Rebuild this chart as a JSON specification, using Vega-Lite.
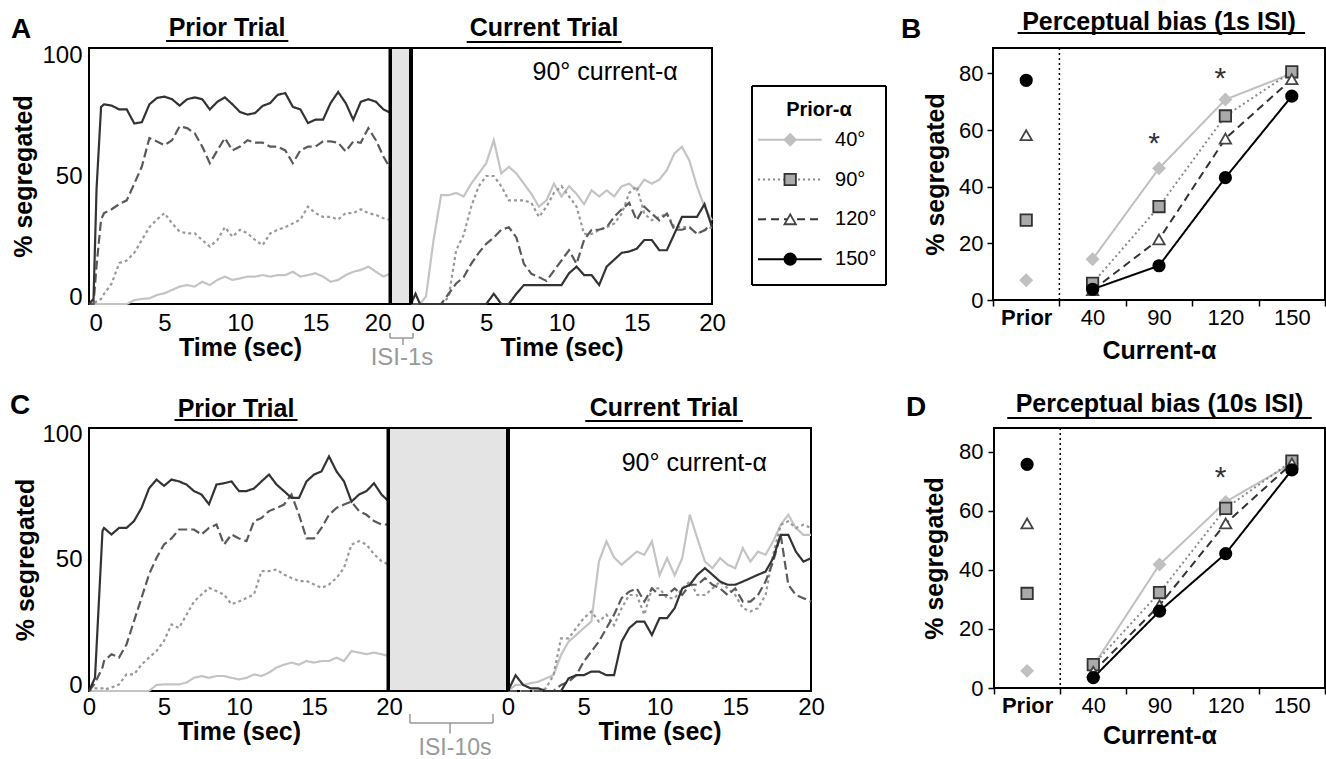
{
"$schema": "https://vega.github.io/schema/vega-lite/v6.json",
"padding": {"left": 8, "top": 9, "right": 0, "bottom": 0},
"config": {"font": "Liberation Sans", "view": {"stroke": "black", "strokeWidth": 2}, "axis": {"labelColor": "black", "titleColor": "black", "grid": false, "labelOverlap": false}, "text": {"color": "black"}},
"datasets": {
"ap": [
{"t":0,"40°":0,"90°":0,"120°":0,"150°":0},
{"t":0.3,"40°":0,"90°":0,"120°":0,"150°":2},
{"t":0.5,"40°":0,"90°":1,"120°":15,"150°":45},
{"t":0.8,"40°":0,"90°":2,"120°":33,"150°":77},
{"t":1,"40°":0,"90°":4,"120°":35.5,"150°":78},
{"t":1.5,"40°":0,"90°":8,"120°":37,"150°":77.5},
{"t":2,"40°":0,"90°":16,"120°":39,"150°":76},
{"t":2.5,"40°":0,"90°":17,"120°":40.5,"150°":76},
{"t":3,"40°":1.5,"90°":20,"120°":47,"150°":70.5},
{"t":3.5,"40°":2,"90°":25,"120°":53.7,"150°":71},
{"t":4,"40°":2.2,"90°":30,"120°":64.8,"150°":78},
{"t":4.5,"40°":3.5,"90°":33,"120°":63.5,"150°":80.5},
{"t":5,"40°":4.2,"90°":35.5,"120°":62,"150°":81},
{"t":5.5,"40°":5.5,"90°":31.5,"120°":64,"150°":80},
{"t":6,"40°":6.8,"90°":28.3,"120°":69.4,"150°":77.5},
{"t":6.5,"40°":7.4,"90°":27.6,"120°":68.7,"150°":80},
{"t":7,"40°":6.8,"90°":27.6,"120°":66.7,"150°":80.7},
{"t":7.5,"40°":8.7,"90°":25,"120°":61.5,"150°":80},
{"t":8,"40°":7.4,"90°":22.4,"120°":55,"150°":76},
{"t":8.5,"40°":9.4,"90°":25,"120°":60,"150°":79},
{"t":9,"40°":10.7,"90°":30,"120°":64.8,"150°":80.7},
{"t":9.5,"40°":9.4,"90°":26.3,"120°":60,"150°":78},
{"t":10,"40°":10,"90°":29,"120°":61.5,"150°":75},
{"t":10.5,"40°":10.7,"90°":27.6,"120°":64,"150°":74},
{"t":11,"40°":10.7,"90°":25,"120°":63,"150°":74.6},
{"t":11.5,"40°":11.3,"90°":23,"120°":63,"150°":77.4},
{"t":12,"40°":10.7,"90°":27.6,"120°":61.5,"150°":78.5},
{"t":12.5,"40°":11.3,"90°":29,"120°":61.5,"150°":81.7},
{"t":13,"40°":11.3,"90°":30,"120°":60,"150°":82.4},
{"t":13.5,"40°":12.6,"90°":31.5,"120°":55,"150°":77},
{"t":14,"40°":10.7,"90°":33,"120°":60,"150°":76},
{"t":14.5,"40°":11.3,"90°":38,"120°":61.5,"150°":70.7},
{"t":15,"40°":12,"90°":35.5,"120°":61.5,"150°":72},
{"t":15.5,"40°":10.7,"90°":34,"120°":63.5,"150°":72},
{"t":16,"40°":8.7,"90°":34,"120°":63.5,"150°":78.5},
{"t":16.5,"40°":9.4,"90°":33,"120°":63,"150°":82.8},
{"t":17,"40°":11.3,"90°":35.5,"120°":59.6,"150°":78.5},
{"t":17.5,"40°":12.6,"90°":35.5,"120°":63.5,"150°":72},
{"t":18,"40°":13.3,"90°":37,"120°":63,"150°":79},
{"t":18.5,"40°":14.6,"90°":35.5,"120°":68.7,"150°":80},
{"t":19,"40°":12.6,"90°":34.8,"120°":64,"150°":79},
{"t":19.5,"40°":10.7,"90°":33.5,"120°":57.6,"150°":76},
{"t":20,"40°":12,"90°":32.8,"120°":52.4,"150°":74.6}
],
"ac": [
{"t":0,"40°":0,"90°":0,"120°":0,"150°":0},
{"t":0.3,"40°":0,"90°":0,"120°":0,"150°":4},
{"t":0.6,"40°":0,"90°":0,"120°":0,"150°":0},
{"t":1,"40°":3,"90°":0,"120°":0,"150°":0},
{"t":1.5,"40°":25,"90°":0,"120°":0,"150°":0},
{"t":2,"40°":42.5,"90°":0,"120°":0,"150°":0},
{"t":2.5,"40°":42.5,"90°":2.6,"120°":4,"150°":0},
{"t":3,"40°":43.4,"90°":21,"120°":8,"150°":0},
{"t":3.5,"40°":42,"90°":27,"120°":10.5,"150°":0},
{"t":4,"40°":47,"90°":38,"120°":15.7,"150°":0},
{"t":4.5,"40°":51,"90°":46,"120°":20,"150°":0},
{"t":5,"40°":55,"90°":50,"120°":23.5,"150°":0},
{"t":5.5,"40°":64,"90°":50,"120°":26,"150°":4},
{"t":6,"40°":51,"90°":46,"120°":29,"150°":0},
{"t":6.5,"40°":53.6,"90°":40.5,"120°":30,"150°":0},
{"t":7,"40°":51,"90°":40.5,"120°":26,"150°":4},
{"t":7.5,"40°":47,"90°":40.5,"120°":15.7,"150°":7.4},
{"t":8,"40°":43,"90°":39.5,"120°":11.8,"150°":7.4},
{"t":8.5,"40°":38,"90°":34,"120°":10.5,"150°":7.4},
{"t":9,"40°":40.5,"90°":38,"120°":9,"150°":7.4},
{"t":9.5,"40°":47,"90°":43.4,"120°":13,"150°":7.4},
{"t":10,"40°":42,"90°":46,"120°":17,"150°":7.4},
{"t":10.5,"40°":46,"90°":42,"120°":21,"150°":12},
{"t":11,"40°":43,"90°":38,"120°":15.7,"150°":14.6},
{"t":11.5,"40°":39,"90°":27.4,"120°":25,"150°":11.3},
{"t":12,"40°":44.4,"90°":27.4,"120°":29,"150°":11.3},
{"t":12.5,"40°":42,"90°":28.8,"120°":29,"150°":7.4},
{"t":13,"40°":44.4,"90°":30,"120°":30,"150°":14.6},
{"t":13.5,"40°":42,"90°":31.4,"120°":34,"150°":17.3},
{"t":14,"40°":46,"90°":35.3,"120°":37,"150°":20},
{"t":14.5,"40°":47,"90°":43.4,"120°":39.5,"150°":20.5},
{"t":15,"40°":44.4,"90°":46,"120°":32.7,"150°":21.6},
{"t":15.5,"40°":48.6,"90°":35.3,"120°":38,"150°":25},
{"t":16,"40°":47,"90°":32.7,"120°":35.3,"150°":25},
{"t":16.5,"40°":48.6,"90°":34,"120°":32.7,"150°":21},
{"t":17,"40°":52.3,"90°":35.3,"120°":35.3,"150°":21},
{"t":17.5,"40°":58.8,"90°":30,"120°":29,"150°":27.4},
{"t":18,"40°":61.4,"90°":30,"120°":29,"150°":34},
{"t":18.5,"40°":56,"90°":30,"120°":30,"150°":34},
{"t":19,"40°":46,"90°":27.4,"120°":27.4,"150°":34},
{"t":19.5,"40°":38,"90°":28.8,"120°":28.8,"150°":39},
{"t":20,"40°":32.7,"90°":30,"120°":31.4,"150°":30}
],
"cp": [
{"t":0,"40°":0,"90°":0,"120°":0,"150°":0},
{"t":0.4,"40°":0,"90°":1,"120°":3,"150°":5},
{"t":0.9,"40°":0,"90°":1,"120°":9,"150°":60.8},
{"t":1,"40°":0,"90°":0.5,"120°":11.4,"150°":62},
{"t":1.5,"40°":0,"90°":1.3,"120°":14,"150°":59.5},
{"t":2,"40°":0,"90°":2.5,"120°":12.7,"150°":62},
{"t":2.5,"40°":0,"90°":6.3,"120°":17.7,"150°":62},
{"t":3,"40°":0,"90°":6.3,"120°":26.6,"150°":64.6},
{"t":3.5,"40°":0,"90°":10,"120°":35.4,"150°":69.6},
{"t":4,"40°":0,"90°":12.7,"120°":44.3,"150°":77},
{"t":4.5,"40°":2.3,"90°":15.2,"120°":50.6,"150°":80.4},
{"t":5,"40°":2.5,"90°":19,"120°":55.7,"150°":78},
{"t":5.5,"40°":2.5,"90°":25.3,"120°":58,"150°":80.4},
{"t":6,"40°":2.5,"90°":24,"120°":61.4,"150°":79.7},
{"t":6.5,"40°":3.2,"90°":29,"120°":61.4,"150°":78.5},
{"t":7,"40°":5,"90°":34,"120°":61.4,"150°":76},
{"t":7.5,"40°":5.7,"90°":36.7,"120°":59.5,"150°":74.7},
{"t":8,"40°":5,"90°":39.2,"120°":62,"150°":71},
{"t":8.5,"40°":5.7,"90°":38,"120°":63.3,"150°":78.5},
{"t":9,"40°":5.7,"90°":36.7,"120°":55.7,"150°":79},
{"t":9.5,"40°":5,"90°":33,"120°":59.5,"150°":79.7},
{"t":10,"40°":4.4,"90°":34,"120°":58,"150°":76},
{"t":10.5,"40°":5,"90°":35.4,"120°":57,"150°":76},
{"t":11,"40°":6.3,"90°":36.7,"120°":64.6,"150°":77},
{"t":11.5,"40°":5.7,"90°":45.6,"120°":65.8,"150°":79.7},
{"t":12,"40°":7,"90°":45.6,"120°":68.4,"150°":82.3},
{"t":12.5,"40°":8.9,"90°":46.2,"120°":69.6,"150°":78.5},
{"t":13,"40°":10,"90°":44.3,"120°":70.9,"150°":76},
{"t":13.5,"40°":10.8,"90°":43,"120°":74.7,"150°":73.4},
{"t":14,"40°":10,"90°":41.8,"120°":67,"150°":73.4},
{"t":14.5,"40°":11.4,"90°":41.8,"120°":58,"150°":79.7},
{"t":15,"40°":10.8,"90°":40.5,"120°":58,"150°":82.3},
{"t":15.5,"40°":11.4,"90°":39.2,"120°":62,"150°":83.5},
{"t":16,"40°":11.4,"90°":40.5,"120°":67,"150°":89.2},
{"t":16.5,"40°":12.7,"90°":43,"120°":69.6,"150°":83.5},
{"t":17,"40°":11.4,"90°":46.8,"120°":70.9,"150°":79.7},
{"t":17.5,"40°":15.2,"90°":55.7,"120°":72,"150°":72},
{"t":18,"40°":14.6,"90°":57,"120°":68.4,"150°":74.7},
{"t":18.5,"40°":14,"90°":55.7,"120°":67,"150°":76},
{"t":19,"40°":14.6,"90°":52,"120°":64.6,"150°":79},
{"t":19.5,"40°":14,"90°":49.4,"120°":63.3,"150°":74.7},
{"t":20,"40°":13.3,"90°":48,"120°":63.3,"150°":72}
],
"cc": [
{"t":0,"40°":0,"90°":0,"120°":0,"150°":0},
{"t":0.5,"40°":2.3,"90°":0,"120°":0,"150°":6},
{"t":1,"40°":2.3,"90°":0,"120°":0,"150°":2.3},
{"t":1.5,"40°":3,"90°":0,"120°":0,"150°":1},
{"t":2,"40°":3.5,"90°":0,"120°":0,"150°":1},
{"t":2.5,"40°":4.8,"90°":1,"120°":0,"150°":0},
{"t":3,"40°":6,"90°":6,"120°":0,"150°":0},
{"t":3.5,"40°":13.7,"90°":20,"120°":2.3,"150°":0},
{"t":4,"40°":18.8,"90°":20,"120°":3.5,"150°":4.8},
{"t":4.5,"40°":21.3,"90°":23.9,"120°":6,"150°":6},
{"t":5,"40°":23.9,"90°":27.7,"120°":11.2,"150°":6},
{"t":5.5,"40°":26.4,"90°":30.2,"120°":15,"150°":7.4},
{"t":6,"40°":49.2,"90°":26.4,"120°":18.8,"150°":7.4},
{"t":6.5,"40°":56.9,"90°":29,"120°":23.9,"150°":6},
{"t":7,"40°":50.8,"90°":25,"120°":29,"150°":6},
{"t":7.5,"40°":48,"90°":31.5,"120°":35.3,"150°":18.8},
{"t":8,"40°":50.5,"90°":36.5,"120°":37.8,"150°":23.9},
{"t":8.5,"40°":53,"90°":36.5,"120°":39,"150°":26.4},
{"t":9,"40°":51.8,"90°":29,"120°":34,"150°":26.4},
{"t":9.5,"40°":56.9,"90°":39,"120°":39,"150°":21.3},
{"t":10,"40°":44,"90°":39,"120°":36.5,"150°":27.7},
{"t":10.5,"40°":50.5,"90°":35.3,"120°":36.5,"150°":27.7},
{"t":11,"40°":44,"90°":35.3,"120°":39,"150°":31.5},
{"t":11.5,"40°":50.5,"90°":39,"120°":36.5,"150°":39},
{"t":12,"40°":67,"90°":41.6,"120°":40.4,"150°":40.4},
{"t":12.5,"40°":58,"90°":36.5,"120°":40.4,"150°":44.2},
{"t":13,"40°":49.2,"90°":36.5,"120°":42.9,"150°":46.7},
{"t":13.5,"40°":46.7,"90°":39,"120°":40.4,"150°":44.2},
{"t":14,"40°":50.5,"90°":41.6,"120°":39,"150°":41.6},
{"t":14.5,"40°":48,"90°":39,"120°":36.5,"150°":40.4},
{"t":15,"40°":46.7,"90°":36.5,"120°":39,"150°":40.4},
{"t":15.5,"40°":54.3,"90°":31.5,"120°":34,"150°":41.6},
{"t":16,"40°":49.2,"90°":30.2,"120°":34,"150°":42.9},
{"t":16.5,"40°":53,"90°":31.5,"120°":36.5,"150°":44.2},
{"t":17,"40°":51.8,"90°":36.5,"120°":41.6,"150°":45.4},
{"t":17.5,"40°":56.9,"90°":51.8,"120°":49.2,"150°":50.5},
{"t":18,"40°":63.2,"90°":63.2,"120°":59.4,"150°":59.4},
{"t":18.5,"40°":67,"90°":64.5,"120°":40.4,"150°":59.4},
{"t":19,"40°":62,"90°":62,"120°":36.5,"150°":53},
{"t":19.5,"40°":59.4,"90°":63.2,"120°":35.3,"150°":49.2},
{"t":20,"40°":59.4,"90°":62,"120°":34,"150°":50.5}
],
"b1": [
{"cur":"Prior","prior":"40°","v":7},{"cur":"Prior","prior":"90°","v":28.2},{"cur":"Prior","prior":"120°","v":58.2},{"cur":"Prior","prior":"150°","v":77.6},
{"cur":"40","prior":"40°","v":14.4},{"cur":"40","prior":"90°","v":5.9},{"cur":"40","prior":"120°","v":3.5},{"cur":"40","prior":"150°","v":3.8},
{"cur":"90","prior":"40°","v":46.5},{"cur":"90","prior":"90°","v":33},{"cur":"90","prior":"120°","v":21.4},{"cur":"90","prior":"150°","v":12.1},
{"cur":"120","prior":"40°","v":70.8},{"cur":"120","prior":"90°","v":65},{"cur":"120","prior":"120°","v":57},{"cur":"120","prior":"150°","v":43.2},
{"cur":"150","prior":"40°","v":80},{"cur":"150","prior":"90°","v":80.6},{"cur":"150","prior":"120°","v":78},{"cur":"150","prior":"150°","v":72}
],
"b10": [
{"cur":"Prior","prior":"40°","v":5.8},{"cur":"Prior","prior":"90°","v":32},{"cur":"Prior","prior":"120°","v":55.7},{"cur":"Prior","prior":"150°","v":75.7},
{"cur":"40","prior":"40°","v":7.5},{"cur":"40","prior":"90°","v":7.9},{"cur":"40","prior":"120°","v":5.5},{"cur":"40","prior":"150°","v":3.5},
{"cur":"90","prior":"40°","v":41.8},{"cur":"90","prior":"90°","v":32.3},{"cur":"90","prior":"120°","v":28},{"cur":"90","prior":"150°","v":26},
{"cur":"120","prior":"40°","v":63},{"cur":"120","prior":"90°","v":60.8},{"cur":"120","prior":"120°","v":55.7},{"cur":"120","prior":"150°","v":45.5},
{"cur":"150","prior":"40°","v":76},{"cur":"150","prior":"90°","v":76.8},{"cur":"150","prior":"120°","v":76},{"cur":"150","prior":"150°","v":73.8}
],
"s1": [{"cur":"90","v":55},{"cur":"120","v":78}],
"s10": [{"cur":"120","v":71}],
"leg": [{"prior":"40°"},{"prior":"90°"},{"prior":"120°"},{"prior":"150°"}]
},
"resolve": {"scale": {"color": "independent", "strokeDash": "independent", "shape": "independent", "fill": "independent", "stroke": "independent"}},
"spacing": 19,
"vconcat": [
{
"spacing": 0, "bounds": "flush",
"resolve": {"scale": {"color": "independent", "strokeDash": "independent", "shape": "independent", "fill": "independent", "stroke": "independent"}},
"hconcat": [
{
"width": 302, "height": 256,
"layer": [
{"data": {"name": "ap"}, "transform": [{"fold": ["40°","90°","120°","150°"], "as": ["prior","v"]}],
 "mark": {"type": "line", "strokeWidth": 2.2},
 "encoding": {
  "x": {"field": "t", "type": "quantitative", "scale": {"domain": [0,20], "nice": false}, "axis": {"values": [0,5,10,15,20], "title": "Time (sec)", "labelFontSize": 24, "titleFontSize": 25, "titleFontWeight": "bold", "ticks": false, "domain": false, "labelPadding": 7, "titlePadding": 0, "labelFlush": true}},
  "y": {"field": "v", "type": "quantitative", "scale": {"domain": [0,100], "nice": false}, "axis": {"values": [0,50,100], "title": "% segregated", "labelFontSize": 24, "titleFontSize": 25, "titleFontWeight": "bold", "ticks": false, "domain": false, "labelPadding": 7, "titlePadding": 5, "labelFlush": true, "labelFlushOffset": 5}},
  "color": {"field": "prior", "type": "nominal", "scale": {"domain": ["40°","90°","120°","150°"], "range": ["#c4c4c4","#999999","#5a5a5a","#333333"]}, "legend": null},
  "strokeDash": {"field": "prior", "type": "nominal", "scale": {"domain": ["40°","90°","120°","150°"], "range": [[1,0],[3,3],[9,4],[1,0]]}, "legend": null}
 }},
{"data": {"values": [{}]}, "mark": {"type": "rule", "strokeWidth": 5, "color": "black"}, "encoding": {"x": {"datum": 20, "type": "quantitative", "scale": {"domain": [0,20], "nice": false}}}},
{"data": {"values": [{}]}, "mark": {"type": "rule", "strokeWidth": 2, "color": "black"}, "encoding": {"x": {"datum": 5.1, "type": "quantitative", "scale": {"domain": [0,20], "nice": false}}, "x2": {"datum": 13.2}, "y": {"datum": 102.7, "type": "quantitative", "scale": {"domain": [0,100], "nice": false}}}},
{"data": {"values": [{}]}, "mark": {"type": "text", "fontSize": 25, "fontWeight": "bold", "baseline": "alphabetic", "align": "center"}, "encoding": {"x": {"datum": 9.14, "type": "quantitative", "scale": {"domain": [0,20], "nice": false}}, "y": {"datum": 104.7, "type": "quantitative", "scale": {"domain": [0,100], "nice": false}}, "text": {"value": "Prior Trial"}}},
{"data": {"values": [{}]}, "mark": {"type": "text", "fontSize": 28, "fontWeight": "bold", "baseline": "alphabetic", "align": "center"}, "encoding": {"x": {"datum": -4.5, "type": "quantitative", "scale": {"domain": [0,20], "nice": false}}, "y": {"datum": 103.9, "type": "quantitative", "scale": {"domain": [0,100], "nice": false}}, "text": {"value": "A"}}}
]
},
{
"width": 20, "height": 256,
"view": {"fill": "#e4e4e4", "stroke": "black", "strokeWidth": 2},
"layer": [
{"data": {"values": [{}]}, "mark": {"type": "text", "fontSize": 24, "color": "#999999", "baseline": "middle", "align": "center"}, "encoding": {"x": {"datum": 0.55, "type": "quantitative", "scale": {"domain": [0,1], "nice": false}, "axis": null}, "y": {"datum": -21.1, "type": "quantitative", "scale": {"domain": [0,100], "nice": false}, "axis": null}, "text": {"value": "ISI-1s"}}},
{"data": {"values": [{}]}, "mark": {"type": "rule", "strokeWidth": 1.5, "color": "#999999"}, "encoding": {"x": {"datum": -0.05, "type": "quantitative", "scale": {"domain": [0,1], "nice": false}, "axis": null}, "x2": {"datum": 1.1}, "y": {"datum": -13.3, "type": "quantitative", "scale": {"domain": [0,100], "nice": false}, "axis": null}}},
{"data": {"values": [{}]}, "mark": {"type": "rule", "strokeWidth": 1.5, "color": "#999999"}, "encoding": {"x": {"datum": -0.05, "type": "quantitative", "scale": {"domain": [0,1], "nice": false}, "axis": null}, "y": {"datum": -13.3, "type": "quantitative", "scale": {"domain": [0,100], "nice": false}, "axis": null}, "y2": {"datum": -11.3}}},
{"data": {"values": [{}]}, "mark": {"type": "rule", "strokeWidth": 1.5, "color": "#999999"}, "encoding": {"x": {"datum": 1.1, "type": "quantitative", "scale": {"domain": [0,1], "nice": false}, "axis": null}, "y": {"datum": -13.3, "type": "quantitative", "scale": {"domain": [0,100], "nice": false}, "axis": null}, "y2": {"datum": -11.3}}},
{"data": {"values": [{}]}, "mark": {"type": "rule", "strokeWidth": 1.5, "color": "#999999"}, "encoding": {"x": {"datum": 0.6, "type": "quantitative", "scale": {"domain": [0,1], "nice": false}, "axis": null}, "y": {"datum": -13.3, "type": "quantitative", "scale": {"domain": [0,100], "nice": false}, "axis": null}, "y2": {"datum": -16}}}
]
},
{
"width": 301, "height": 256,
"layer": [
{"data": {"name": "ac"}, "transform": [{"fold": ["40°","90°","120°","150°"], "as": ["prior","v"]}],
 "mark": {"type": "line", "strokeWidth": 2.2},
 "encoding": {
  "x": {"field": "t", "type": "quantitative", "scale": {"domain": [0,20], "nice": false}, "axis": {"values": [0,5,10,15,20], "title": "Time (sec)", "labelFontSize": 24, "titleFontSize": 25, "titleFontWeight": "bold", "ticks": false, "domain": false, "labelPadding": 7, "titlePadding": 0, "labelFlush": false, "labelAlign": {"condition": {"test": "datum.value == 0", "value": "left"}, "value": "center"}}},
  "y": {"field": "v", "type": "quantitative", "scale": {"domain": [0,100], "nice": false}, "axis": null},
  "color": {"field": "prior", "type": "nominal", "scale": {"domain": ["40°","90°","120°","150°"], "range": ["#c4c4c4","#999999","#5a5a5a","#333333"]}, "legend": null},
  "strokeDash": {"field": "prior", "type": "nominal", "scale": {"domain": ["40°","90°","120°","150°"], "range": [[1,0],[3,3],[9,4],[1,0]]}, "legend": null}
 }},
{"data": {"values": [{}]}, "mark": {"type": "rule", "strokeWidth": 4, "color": "black"}, "encoding": {"x": {"datum": 0, "type": "quantitative", "scale": {"domain": [0,20], "nice": false}}}},
{"data": {"values": [{}]}, "mark": {"type": "rule", "strokeWidth": 2, "color": "black"}, "encoding": {"x": {"datum": 3.7, "type": "quantitative", "scale": {"domain": [0,20], "nice": false}}, "x2": {"datum": 14.0}, "y": {"datum": 102.3, "type": "quantitative", "scale": {"domain": [0,100], "nice": false}, "axis": null}}},
{"data": {"values": [{}]}, "mark": {"type": "text", "fontSize": 25, "fontWeight": "bold", "baseline": "alphabetic", "align": "center"}, "encoding": {"x": {"datum": 8.84, "type": "quantitative", "scale": {"domain": [0,20], "nice": false}}, "y": {"datum": 104.7, "type": "quantitative", "scale": {"domain": [0,100], "nice": false}, "axis": null}, "text": {"value": "Current Trial"}}},
{"data": {"values": [{}]}, "mark": {"type": "text", "fontSize": 25, "baseline": "middle", "align": "center"}, "encoding": {"x": {"datum": 12.9, "type": "quantitative", "scale": {"domain": [0,20], "nice": false}}, "y": {"datum": 90.6, "type": "quantitative", "scale": {"domain": [0,100], "nice": false}, "axis": null}, "text": {"value": "90° current-α"}}}
]
},
{"width": 40, "height": 256, "data": {"values": []}, "mark": "point", "view": {"stroke": null}},
{
"width": 134, "height": 237,
"view": {"stroke": null},
"layer": [
{"data": {"values": [{}]}, "mark": {"type": "rule", "strokeWidth": 2, "color": "black"},
 "encoding": {
  "x": {"datum": 0, "type": "quantitative", "scale": {"domain": [0,10], "nice": false}, "axis": null},
  "x2": {"datum": 10},
  "y": {"datum": "Prior-α", "type": "nominal", "bandPosition": 0, "scale": {"type": "band", "domain": ["Prior-α","40°","90°","120°","150°"], "paddingInner": 0, "paddingOuter": 0.477, "align": 1}, "axis": null}
 }},
{"data": {"values": [{}]}, "mark": {"type": "rule", "strokeWidth": 2, "color": "black"},
 "encoding": {
  "x": {"datum": 0, "type": "quantitative", "scale": {"domain": [0,10], "nice": false}, "axis": null},
  "x2": {"datum": 10},
  "y": {"datum": "150°", "type": "nominal", "bandPosition": 1, "scale": {"type": "band", "domain": ["Prior-α","40°","90°","120°","150°"], "paddingInner": 0, "paddingOuter": 0.477, "align": 1}, "axis": null}
 }},
{"data": {"values": [{}]}, "mark": {"type": "rule", "strokeWidth": 2, "color": "black"},
 "encoding": {
  "x": {"datum": 0, "type": "quantitative", "scale": {"domain": [0,10], "nice": false}, "axis": null},
  "y": {"datum": "Prior-α", "type": "nominal", "bandPosition": 0, "scale": {"type": "band", "domain": ["Prior-α","40°","90°","120°","150°"], "paddingInner": 0, "paddingOuter": 0.477, "align": 1}, "axis": null},
  "y2": {"datum": "150°", "bandPosition": 1}
 }},
{"data": {"values": [{}]}, "mark": {"type": "rule", "strokeWidth": 2, "color": "black"},
 "encoding": {
  "x": {"datum": 10, "type": "quantitative", "scale": {"domain": [0,10], "nice": false}, "axis": null},
  "y": {"datum": "Prior-α", "type": "nominal", "bandPosition": 0, "scale": {"type": "band", "domain": ["Prior-α","40°","90°","120°","150°"], "paddingInner": 0, "paddingOuter": 0.477, "align": 1}, "axis": null},
  "y2": {"datum": "150°", "bandPosition": 1}
 }},
{"data": {"values": [{}]}, "mark": {"type": "text", "fontSize": 20, "fontWeight": "bold", "baseline": "middle", "align": "center"},
 "encoding": {
  "x": {"datum": 5, "type": "quantitative", "scale": {"domain": [0,10], "nice": false}, "axis": null},
  "y": {"datum": "Prior-α", "type": "nominal", "bandPosition": 0.6, "scale": {"type": "band", "domain": ["Prior-α","40°","90°","120°","150°"], "paddingInner": 0, "paddingOuter": 0.477, "align": 1}, "axis": null},
  "text": {"value": "Prior-α"}
 }},
{"data": {"name": "leg"}, "mark": {"type": "rule", "strokeWidth": 2},
 "encoding": {
  "x": {"datum": 0.45, "type": "quantitative", "scale": {"domain": [0,10], "nice": false}, "axis": null},
  "x2": {"datum": 5.2},
  "y": {"field": "prior", "type": "nominal", "bandPosition": 0.35, "scale": {"type": "band", "domain": ["Prior-α","40°","90°","120°","150°"], "paddingInner": 0, "paddingOuter": 0.477, "align": 1}, "axis": null},
  "color": {"field": "prior", "type": "nominal", "scale": {"domain": ["40°","90°","120°","150°"], "range": ["#c0c0c0","#8a8a8a","#333333","#000000"]}, "legend": null},
  "strokeDash": {"field": "prior", "type": "nominal", "scale": {"domain": ["40°","90°","120°","150°"], "range": [[1,0],[2,3],[8,5],[1,0]]}, "legend": null}
 }},
{"data": {"name": "leg"}, "mark": {"type": "point", "opacity": 1, "size": 130, "strokeWidth": 1.8},
 "encoding": {
  "x": {"datum": 2.85, "type": "quantitative", "scale": {"domain": [0,10], "nice": false}, "axis": null},
  "y": {"field": "prior", "type": "nominal", "bandPosition": 0.35, "scale": {"type": "band", "domain": ["Prior-α","40°","90°","120°","150°"], "paddingInner": 0, "paddingOuter": 0.477, "align": 1}, "axis": null},
  "shape": {"field": "prior", "type": "nominal", "scale": {"domain": ["40°","90°","120°","150°"], "range": ["diamond","square","triangle-up","circle"]}, "legend": null},
  "fill": {"field": "prior", "type": "nominal", "scale": {"domain": ["40°","90°","120°","150°"], "range": ["#c0c0c0","#aaaaaa","#ffffff","#000000"]}, "legend": null},
  "stroke": {"field": "prior", "type": "nominal", "scale": {"domain": ["40°","90°","120°","150°"], "range": ["#c0c0c0","#333333","#444444","#000000"]}, "legend": null}
 }},
{"data": {"name": "leg"}, "mark": {"type": "text", "align": "left", "baseline": "middle", "fontSize": 20},
 "encoding": {
  "x": {"datum": 6.2, "type": "quantitative", "scale": {"domain": [0,10], "nice": false}, "axis": null},
  "y": {"field": "prior", "type": "nominal", "bandPosition": 0.35, "scale": {"type": "band", "domain": ["Prior-α","40°","90°","120°","150°"], "paddingInner": 0, "paddingOuter": 0.477, "align": 1}, "axis": null},
  "text": {"field": "prior"}
 }}
]
},
{"width": 107, "height": 256, "view": {"stroke": null}, "data": {"values": [{}]},
 "mark": {"type": "text", "fontSize": 28, "fontWeight": "bold", "baseline": "alphabetic", "align": "center"},
 "encoding": {"x": {"datum": 0.234, "type": "quantitative", "scale": {"domain": [0,1], "nice": false}, "axis": null}, "y": {"datum": 1.039, "type": "quantitative", "scale": {"domain": [0,1], "nice": false}, "axis": null}, "text": {"value": "B"}}},
{
"width": 332, "height": 252,
"layer": [
{"data": {"values": [{}]}, "mark": {"type": "rule", "strokeDash": [2,3], "strokeWidth": 1.5, "color": "black"},
 "encoding": {"x": {"datum": "40", "type": "nominal", "bandPosition": 0, "scale": {"type": "band", "domain": ["Prior","40","90","120","150"], "paddingInner": 0, "paddingOuter": 0}}}},
{"data": {"name": "b1"}, "transform": [{"filter": "datum.cur != 'Prior'"}],
 "mark": {"type": "line", "strokeWidth": 2},
 "encoding": {
  "x": {"field": "cur", "type": "nominal", "scale": {"type": "band", "domain": ["Prior","40","90","120","150"], "paddingInner": 0, "paddingOuter": 0}, "axis": {"title": "Current-α", "labelFontSize": 22, "titleFontSize": 25, "titleFontWeight": "bold", "tickBand": "extent", "ticks": true, "tickSize": 6, "tickWidth": 1.5, "tickColor": "black", "domain": false, "labelPadding": 11, "titlePadding": 10, "labelAngle": 0, "labelAlign": "center", "labelFontWeight": {"condition": {"test": "datum.value == 'Prior'", "value": "bold"}, "value": "normal"}}},
  "y": {"field": "v", "type": "quantitative", "scale": {"domain": [0,89], "nice": false}, "axis": {"values": [0,20,40,60,80], "title": "% segregated", "labelFontSize": 22, "titleFontSize": 25, "titleFontWeight": "bold", "ticks": true, "tickSize": 6, "tickWidth": 1.5, "tickColor": "black", "domain": false, "labelPadding": 4, "titlePadding": 10}},
  "color": {"field": "prior", "type": "nominal", "scale": {"domain": ["40°","90°","120°","150°"], "range": ["#c0c0c0","#8a8a8a","#333333","#000000"]}, "legend": null},
  "strokeDash": {"field": "prior", "type": "nominal", "scale": {"domain": ["40°","90°","120°","150°"], "range": [[1,0],[2,3],[8,5],[1,0]]}, "legend": null},
  "order": {"value": null}
 }},
{"data": {"name": "b1"},
 "mark": {"type": "point", "opacity": 1, "size": 130, "strokeWidth": 1.8},
 "encoding": {
  "x": {"field": "cur", "type": "nominal", "scale": {"type": "band", "domain": ["Prior","40","90","120","150"], "paddingInner": 0, "paddingOuter": 0}},
  "y": {"field": "v", "type": "quantitative", "scale": {"domain": [0,89], "nice": false}},
  "shape": {"field": "prior", "type": "nominal", "scale": {"domain": ["40°","90°","120°","150°"], "range": ["diamond","square","triangle-up","circle"]}, "legend": null},
  "fill": {"field": "prior", "type": "nominal", "scale": {"domain": ["40°","90°","120°","150°"], "range": ["#c0c0c0","#aaaaaa","#ffffff","#000000"]}, "legend": null},
  "stroke": {"field": "prior", "type": "nominal", "scale": {"domain": ["40°","90°","120°","150°"], "range": ["#c0c0c0","#333333","#444444","#000000"]}, "legend": null}
 }},
{"data": {"name": "s1"},
 "mark": {"type": "text", "fontSize": 30, "color": "#333333", "dx": -5, "baseline": "middle", "align": "center"},
 "encoding": {
  "x": {"field": "cur", "type": "nominal", "scale": {"type": "band", "domain": ["Prior","40","90","120","150"], "paddingInner": 0, "paddingOuter": 0}},
  "y": {"field": "v", "type": "quantitative", "scale": {"domain": [0,89], "nice": false}},
  "text": {"value": "*"}
 }},
{"data": {"values": [{}]}, "mark": {"type": "rule", "strokeWidth": 2, "color": "black"},
 "encoding": {
  "x": {"datum": "Prior", "type": "nominal", "bandPosition": 0.37, "scale": {"type": "band", "domain": ["Prior","40","90","120","150"], "paddingInner": 0, "paddingOuter": 0}},
  "x2": {"datum": "150", "bandPosition": 0.7},
  "y": {"datum": 94.3, "type": "quantitative", "scale": {"domain": [0,89], "nice": false}}
 }},
{"data": {"values": [{}]}, "mark": {"type": "text", "fontSize": 25, "fontWeight": "bold", "baseline": "alphabetic", "align": "center"},
 "encoding": {
  "x": {"datum": "90", "type": "nominal", "scale": {"type": "band", "domain": ["Prior","40","90","120","150"], "paddingInner": 0, "paddingOuter": 0}},
  "y": {"datum": 95.35, "type": "quantitative", "scale": {"domain": [0,89], "nice": false}},
  "text": {"value": "Perceptual bias (1s ISI)"}
 }}
]
}
]
},
{
"spacing": 0, "bounds": "flush",
"resolve": {"scale": {"color": "independent", "strokeDash": "independent", "shape": "independent", "fill": "independent", "stroke": "independent"}},
"hconcat": [
{
"width": 300, "height": 263,
"layer": [
{"data": {"name": "cp"}, "transform": [{"fold": ["40°","90°","120°","150°"], "as": ["prior","v"]}],
 "mark": {"type": "line", "strokeWidth": 2.2},
 "encoding": {
  "x": {"field": "t", "type": "quantitative", "scale": {"domain": [0,20], "nice": false}, "axis": {"values": [0,5,10,15,20], "title": "Time (sec)", "labelFontSize": 24, "titleFontSize": 25, "titleFontWeight": "bold", "ticks": false, "domain": false, "labelPadding": 4, "titlePadding": 0, "labelFlush": false}},
  "y": {"field": "v", "type": "quantitative", "scale": {"domain": [0,100], "nice": false}, "axis": {"values": [0,50,100], "title": "% segregated", "labelFontSize": 24, "titleFontSize": 25, "titleFontWeight": "bold", "ticks": false, "domain": false, "labelPadding": 7, "titlePadding": 3, "labelFlush": true, "labelFlushOffset": 6}},
  "color": {"field": "prior", "type": "nominal", "scale": {"domain": ["40°","90°","120°","150°"], "range": ["#c4c4c4","#999999","#5a5a5a","#333333"]}, "legend": null},
  "strokeDash": {"field": "prior", "type": "nominal", "scale": {"domain": ["40°","90°","120°","150°"], "range": [[1,0],[3,3],[9,4],[1,0]]}, "legend": null}
 }},
{"data": {"values": [{}]}, "mark": {"type": "rule", "strokeWidth": 5, "color": "black"}, "encoding": {"x": {"datum": 20, "type": "quantitative", "scale": {"domain": [0,20], "nice": false}}}},
{"data": {"values": [{}]}, "mark": {"type": "rule", "strokeWidth": 2, "color": "black"}, "encoding": {"x": {"datum": 5.7, "type": "quantitative", "scale": {"domain": [0,20], "nice": false}}, "x2": {"datum": 13.9}, "y": {"datum": 103, "type": "quantitative", "scale": {"domain": [0,100], "nice": false}}}},
{"data": {"values": [{}]}, "mark": {"type": "text", "fontSize": 25, "fontWeight": "bold", "baseline": "alphabetic", "align": "center"}, "encoding": {"x": {"datum": 9.8, "type": "quantitative", "scale": {"domain": [0,20], "nice": false}}, "y": {"datum": 104.2, "type": "quantitative", "scale": {"domain": [0,100], "nice": false}}, "text": {"value": "Prior Trial"}}},
{"data": {"values": [{}]}, "mark": {"type": "text", "fontSize": 28, "fontWeight": "bold", "baseline": "alphabetic", "align": "center"}, "encoding": {"x": {"datum": -4.6, "type": "quantitative", "scale": {"domain": [0,20], "nice": false}}, "y": {"datum": 105.3, "type": "quantitative", "scale": {"domain": [0,100], "nice": false}}, "text": {"value": "C"}}}
]
},
{
"width": 119, "height": 263,
"view": {"fill": "#e4e4e4", "stroke": "black", "strokeWidth": 2},
"layer": [
{"data": {"values": [{}]}, "mark": {"type": "text", "fontSize": 23, "color": "#999999", "baseline": "middle", "align": "center"}, "encoding": {"x": {"datum": 5.55, "type": "quantitative", "scale": {"domain": [0,10], "nice": false}, "axis": null}, "y": {"datum": -21.6, "type": "quantitative", "scale": {"domain": [0,100], "nice": false}, "axis": null}, "text": {"value": "ISI-10s"}}},
{"data": {"values": [{}]}, "mark": {"type": "rule", "strokeWidth": 1.5, "color": "#999999"}, "encoding": {"x": {"datum": 1.76, "type": "quantitative", "scale": {"domain": [0,10], "nice": false}, "axis": null}, "x2": {"datum": 8.74}, "y": {"datum": -12.2, "type": "quantitative", "scale": {"domain": [0,100], "nice": false}, "axis": null}}},
{"data": {"values": [{}]}, "mark": {"type": "rule", "strokeWidth": 1.5, "color": "#999999"}, "encoding": {"x": {"datum": 1.76, "type": "quantitative", "scale": {"domain": [0,10], "nice": false}, "axis": null}, "y": {"datum": -12.2, "type": "quantitative", "scale": {"domain": [0,100], "nice": false}, "axis": null}, "y2": {"datum": -8.7}}},
{"data": {"values": [{}]}, "mark": {"type": "rule", "strokeWidth": 1.5, "color": "#999999"}, "encoding": {"x": {"datum": 8.74, "type": "quantitative", "scale": {"domain": [0,10], "nice": false}, "axis": null}, "y": {"datum": -12.2, "type": "quantitative", "scale": {"domain": [0,100], "nice": false}, "axis": null}, "y2": {"datum": -8.7}}},
{"data": {"values": [{}]}, "mark": {"type": "rule", "strokeWidth": 1.5, "color": "#999999"}, "encoding": {"x": {"datum": 5.13, "type": "quantitative", "scale": {"domain": [0,10], "nice": false}, "axis": null}, "y": {"datum": -12.2, "type": "quantitative", "scale": {"domain": [0,100], "nice": false}, "axis": null}, "y2": {"datum": -16.2}}}
]
},
{
"width": 303, "height": 263,
"layer": [
{"data": {"name": "cc"}, "transform": [{"fold": ["40°","90°","120°","150°"], "as": ["prior","v"]}],
 "mark": {"type": "line", "strokeWidth": 2.2},
 "encoding": {
  "x": {"field": "t", "type": "quantitative", "scale": {"domain": [0,20], "nice": false}, "axis": {"values": [0,5,10,15,20], "title": "Time (sec)", "labelFontSize": 24, "titleFontSize": 25, "titleFontWeight": "bold", "ticks": false, "domain": false, "labelPadding": 4, "titlePadding": 0, "labelFlush": false}},
  "y": {"field": "v", "type": "quantitative", "scale": {"domain": [0,100], "nice": false}, "axis": null},
  "color": {"field": "prior", "type": "nominal", "scale": {"domain": ["40°","90°","120°","150°"], "range": ["#c4c4c4","#999999","#5a5a5a","#333333"]}, "legend": null},
  "strokeDash": {"field": "prior", "type": "nominal", "scale": {"domain": ["40°","90°","120°","150°"], "range": [[1,0],[3,3],[9,4],[1,0]]}, "legend": null}
 }},
{"data": {"values": [{}]}, "mark": {"type": "rule", "strokeWidth": 4, "color": "black"}, "encoding": {"x": {"datum": 0, "type": "quantitative", "scale": {"domain": [0,20], "nice": false}}}},
{"data": {"values": [{}]}, "mark": {"type": "rule", "strokeWidth": 2, "color": "black"}, "encoding": {"x": {"datum": 5.1, "type": "quantitative", "scale": {"domain": [0,20], "nice": false}}, "x2": {"datum": 15.5}, "y": {"datum": 102.7, "type": "quantitative", "scale": {"domain": [0,100], "nice": false}, "axis": null}}},
{"data": {"values": [{}]}, "mark": {"type": "text", "fontSize": 25, "fontWeight": "bold", "baseline": "alphabetic", "align": "center"}, "encoding": {"x": {"datum": 10.3, "type": "quantitative", "scale": {"domain": [0,20], "nice": false}}, "y": {"datum": 104.6, "type": "quantitative", "scale": {"domain": [0,100], "nice": false}, "axis": null}, "text": {"value": "Current Trial"}}},
{"data": {"values": [{}]}, "mark": {"type": "text", "fontSize": 25, "baseline": "middle", "align": "center"}, "encoding": {"x": {"datum": 12.3, "type": "quantitative", "scale": {"domain": [0,20], "nice": false}}, "y": {"datum": 86.7, "type": "quantitative", "scale": {"domain": [0,100], "nice": false}, "axis": null}, "text": {"value": "90° current-α"}}}
]
},
{"width": 183, "height": 263, "view": {"stroke": null}, "data": {"values": [{}]},
 "mark": {"type": "text", "fontSize": 28, "fontWeight": "bold", "baseline": "alphabetic", "align": "center"},
 "encoding": {"x": {"datum": 0.574, "type": "quantitative", "scale": {"domain": [0,1], "nice": false}, "axis": null}, "y": {"datum": 1.046, "type": "quantitative", "scale": {"domain": [0,1], "nice": false}, "axis": null}, "text": {"value": "D"}}},
{
"width": 331, "height": 260,
"layer": [
{"data": {"values": [{}]}, "mark": {"type": "rule", "strokeDash": [2,3], "strokeWidth": 1.5, "color": "black"},
 "encoding": {"x": {"datum": "40", "type": "nominal", "bandPosition": 0, "scale": {"type": "band", "domain": ["Prior","40","90","120","150"], "paddingInner": 0, "paddingOuter": 0}}}},
{"data": {"name": "b10"}, "transform": [{"filter": "datum.cur != 'Prior'"}],
 "mark": {"type": "line", "strokeWidth": 2},
 "encoding": {
  "x": {"field": "cur", "type": "nominal", "scale": {"type": "band", "domain": ["Prior","40","90","120","150"], "paddingInner": 0, "paddingOuter": 0}, "axis": {"title": "Current-α", "labelFontSize": 22, "titleFontSize": 25, "titleFontWeight": "bold", "tickBand": "extent", "ticks": true, "tickSize": 6, "tickWidth": 1.5, "tickColor": "black", "domain": false, "labelPadding": 11, "titlePadding": 7, "labelAngle": 0, "labelAlign": "center", "labelFontWeight": {"condition": {"test": "datum.value == 'Prior'", "value": "bold"}, "value": "normal"}}},
  "y": {"field": "v", "type": "quantitative", "scale": {"domain": [0,88], "nice": false}, "axis": {"values": [0,20,40,60,80], "title": "% segregated", "labelFontSize": 22, "titleFontSize": 25, "titleFontWeight": "bold", "ticks": true, "tickSize": 6, "tickWidth": 1.5, "tickColor": "black", "domain": false, "labelPadding": 5, "titlePadding": 11}},
  "color": {"field": "prior", "type": "nominal", "scale": {"domain": ["40°","90°","120°","150°"], "range": ["#c0c0c0","#8a8a8a","#333333","#000000"]}, "legend": null},
  "strokeDash": {"field": "prior", "type": "nominal", "scale": {"domain": ["40°","90°","120°","150°"], "range": [[1,0],[2,3],[8,5],[1,0]]}, "legend": null},
  "order": {"value": null}
 }},
{"data": {"name": "b10"},
 "mark": {"type": "point", "opacity": 1, "size": 130, "strokeWidth": 1.8},
 "encoding": {
  "x": {"field": "cur", "type": "nominal", "scale": {"type": "band", "domain": ["Prior","40","90","120","150"], "paddingInner": 0, "paddingOuter": 0}},
  "y": {"field": "v", "type": "quantitative", "scale": {"domain": [0,88], "nice": false}},
  "shape": {"field": "prior", "type": "nominal", "scale": {"domain": ["40°","90°","120°","150°"], "range": ["diamond","square","triangle-up","circle"]}, "legend": null},
  "fill": {"field": "prior", "type": "nominal", "scale": {"domain": ["40°","90°","120°","150°"], "range": ["#c0c0c0","#aaaaaa","#ffffff","#000000"]}, "legend": null},
  "stroke": {"field": "prior", "type": "nominal", "scale": {"domain": ["40°","90°","120°","150°"], "range": ["#c0c0c0","#333333","#444444","#000000"]}, "legend": null}
 }},
{"data": {"name": "s10"},
 "mark": {"type": "text", "fontSize": 30, "color": "#333333", "dx": -5, "baseline": "middle", "align": "center"},
 "encoding": {
  "x": {"field": "cur", "type": "nominal", "scale": {"type": "band", "domain": ["Prior","40","90","120","150"], "paddingInner": 0, "paddingOuter": 0}},
  "y": {"field": "v", "type": "quantitative", "scale": {"domain": [0,88], "nice": false}},
  "text": {"value": "*"}
 }},
{"data": {"values": [{}]}, "mark": {"type": "rule", "strokeWidth": 2, "color": "black"},
 "encoding": {
  "x": {"datum": "Prior", "type": "nominal", "bandPosition": 0.2, "scale": {"type": "band", "domain": ["Prior","40","90","120","150"], "paddingInner": 0, "paddingOuter": 0}},
  "x2": {"datum": "150", "bandPosition": 0.8},
  "y": {"datum": 91.4, "type": "quantitative", "scale": {"domain": [0,88], "nice": false}}
 }},
{"data": {"values": [{}]}, "mark": {"type": "text", "fontSize": 25, "fontWeight": "bold", "baseline": "alphabetic", "align": "center"},
 "encoding": {
  "x": {"datum": "90", "type": "nominal", "scale": {"type": "band", "domain": ["Prior","40","90","120","150"], "paddingInner": 0, "paddingOuter": 0}},
  "y": {"datum": 93.4, "type": "quantitative", "scale": {"domain": [0,88], "nice": false}},
  "text": {"value": "Perceptual bias (10s ISI)"}
 }}
]
}
]
}
]
}
